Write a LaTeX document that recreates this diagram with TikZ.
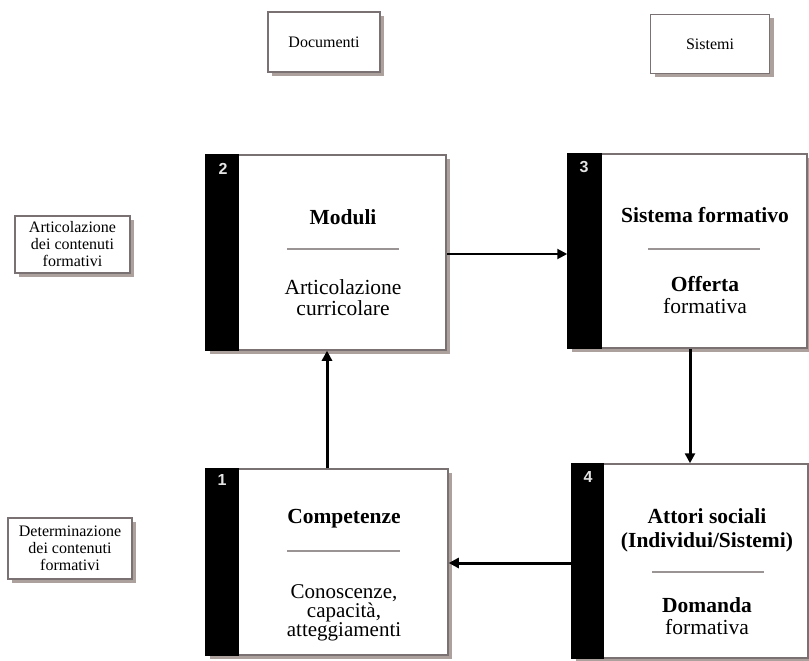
\documentclass[tikz,border=0pt]{standalone}
\usepackage{fontspec}
\setmainfont{Liberation Serif}
\newfontfamily\numfont{Liberation Sans}
\usetikzlibrary{arrows.meta,shadows,calc}
\definecolor{shadowc}{HTML}{ADA19D}
\definecolor{borderc}{HTML}{7A7272}
\definecolor{sepc}{HTML}{9A9494}
\definecolor{numc}{HTML}{E4E4E4}
\tikzset{
  boxbase/.style={draw=borderc, line width=1.5bp, fill=white, inner sep=0pt,
    drop shadow={shadow xshift=4bp, shadow yshift=-4bp, fill=shadowc, opacity=1}},
  mainbox/.style={boxbase},
  smallbox/.style={boxbase, align=center, font=\fontsize{16bp}{17bp}\selectfont},
  titletext/.style={anchor=base, inner sep=0pt, align=center, font=\fontsize{21.5bp}{24bp}\selectfont\bfseries},
  bodytext/.style={anchor=base, inner sep=0pt, align=center, font=\fontsize{21.5bp}{21bp}\selectfont},
  tightbody/.style={anchor=base, inner sep=0pt, align=center, font=\fontsize{21bp}{19bp}\selectfont},
  numlabel/.style={text=numc, inner sep=0pt, font=\numfont\bfseries\fontsize{16bp}{16bp}\selectfont},
  sepline/.style={draw=sepc, line width=1.2bp},
  flow/.style={line width=3bp, -{Triangle[length=10bp,width=10bp]}},
  flowthin/.style={line width=2bp, -{Triangle[length=10bp,width=10bp]}}
}
\begin{document}
\begin{tikzpicture}[x=1bp,y=-1bp]
\useasboundingbox (0,0) rectangle (809,661);

% top labels
\node[smallbox, minimum width=112bp, minimum height=60bp] (doc) at (324,42) {Documenti};
\node[smallbox, minimum width=119bp, minimum height=59bp] (sis) at (710,44) {Sistemi};

% left labels
\node[smallbox, minimum width=115bp, minimum height=57bp] (art) at (72.5,244.5) {Articolazione\\dei contenuti\\formativi};
\node[smallbox, minimum width=124bp, minimum height=61bp] (det) at (70,548.5) {Determinazione\\dei contenuti\\formativi};

% main boxes
\node[mainbox, minimum width=240bp, minimum height=195bp] (b2) at (326,252.5) {};
\node[mainbox, minimum width=239bp, minimum height=194bp] (b3) at (687.5,251) {};
\node[mainbox, minimum width=242bp, minimum height=186bp] (b1) at (327,562) {};
\node[mainbox, minimum width=236bp, minimum height=194bp] (b4) at (690,561) {};

% black strips
\fill[black] (b2.north west) rectangle ($(b2.south west)+(34,0)$);
\fill[black] (b3.north west) rectangle ($(b3.south west)+(35,0)$);
\fill[black] (b1.north west) rectangle ($(b1.south west)+(34,0)$);
\fill[black] (b4.north west) rectangle ($(b4.south west)+(33,0)$);

% numbers
\node[numlabel] (n2) at (223,169) {2};
\node[numlabel] (n3) at (584,167) {3};
\node[numlabel] (n1) at (222,480) {1};
\node[numlabel] (n4) at (588,477) {4};

% box 2
\node[titletext] (t2) at (343,224) {Moduli};
\draw[sepline] (287,249) -- (399,249);
\node[bodytext] (s2) at (343,315) {Articolazione\\curricolare};

% box 3
\node[titletext] (t3) at (705,222) {Sistema formativo};
\draw[sepline] (648,249) -- (760,249);
\node[titletext] (s3a) at (705,291) {Offerta};
\node[bodytext] (s3b) at (705,313) {formativa};

% box 1
\node[titletext] (t1) at (344,523) {Competenze};
\draw[sepline] (287,551) -- (400,551);
\node[tightbody] (s1) at (344,636) {Conoscenze,\\capacità,\\atteggiamenti};

% box 4
\node[titletext] (t4) at (707,547) {Attori sociali\\(Individui/Sistemi)};
\draw[sepline] (652,572) -- (764,572);
\node[titletext] (s4a) at (707,612) {Domanda};
\node[bodytext] (s4b) at (707,634) {formativa};

% connectors
\draw[flowthin] ($(b2.east)+(0,1.5)$) -- ($(b2.east -| b3.west)+(0,1.5)$);
\draw[flow] ($(b3.south)+(2.5,0)$) -- ($(b3.south |- b4.north)+(2.5,0)$);
\draw[flow] ($(b4.west)+(0,2)$) -- ($(b4.west -| b1.east)+(0,2)$);
\draw[flow] (b1.north) -- (b1.north |- b2.south);
\end{tikzpicture}
\end{document}
